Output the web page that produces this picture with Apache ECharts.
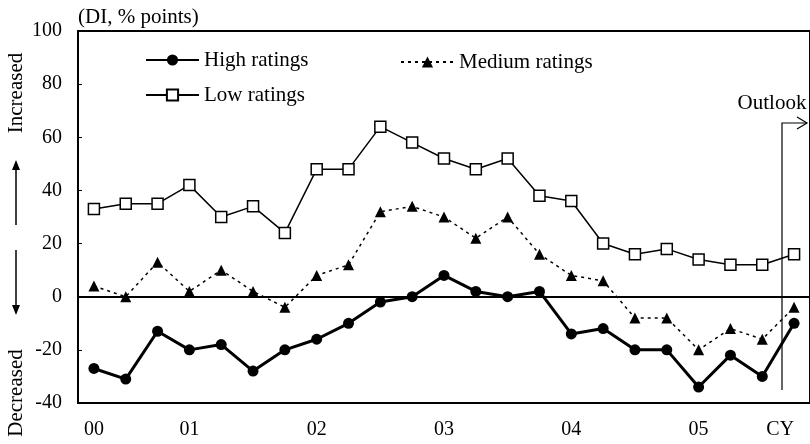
<!DOCTYPE html>
<html>
<head>
<meta charset="utf-8">
<script src="https://cdn.jsdelivr.net/npm/echarts@6/dist/echarts.min.js"></script>
<style>
  html, body { margin: 0; padding: 0; background: #fff; }
  #chart { width: 810px; height: 444px; }
</style>
</head>
<body>
<div id="chart"></div>
<script>
// x labels (quarters, label only at some of them)
const quarters = ['00', '', '', '01', '', '', '', '02', '', '', '', '03', '', '', '', '04', '', '', '', '05', '', '', 'CY'];

// DI values
const highRatings = [-27, -31, -13, -20, -18, -28, -20, -16, -10, -2, 0, 8, 2, 0, 2, -14, -12, -20, -20, -34, -22, -30, -10];
const mediumRatings = [4, 0, 13, 2, 10, 2, -4, 8, 12, 32, 34, 30, 22, 30, 16, 8, 6, -8, -8, -20, -12, -16, -4];
const lowRatings = [33, 35, 35, 42, 30, 34, 24, 48, 48, 64, 58, 52, 48, 52, 38, 36, 20, 16, 18, 14, 12, 12, 16];

const yTicks = { min: -40, max: 100, step: 20 };

const FONT = 'Liberation Serif';

const chart = echarts.init(document.getElementById('chart'));

const legendBase = {
  itemWidth: 53,
  itemHeight: 14,
  textStyle: { fontFamily: FONT, fontSize: 21, color: '#000', lineHeight: 22 },
  selectedMode: false
};

const option = {
  animation: false,
  backgroundColor: '#fff',
  grid: {
    left: 78, right: -8, top: 31, bottom: 41,
    show: true, borderColor: '#000', borderWidth: 2
  },
  legend: [
    Object.assign({ data: ['High ratings'], left: 140, top: 44 }, legendBase),
    Object.assign({ data: ['Low ratings'], left: 140, top: 79 }, legendBase),
    Object.assign({ data: ['Medium ratings'], left: 395, top: 46 }, legendBase)
  ],
  xAxis: {
    type: 'category',
    data: quarters,
    boundaryGap: true,
    axisLine: { show: true, lineStyle: { color: '#000', width: 2 } },
    axisTick: { show: false },
    axisLabel: {
      interval: 0, margin: 17, fontFamily: FONT, fontSize: 20, color: '#000',
      alignMaxLabel: 'right'
    }
  },
  yAxis: {
    type: 'value',
    min: yTicks.min, max: yTicks.max, interval: yTicks.step,
    axisLine: { show: true, lineStyle: { color: '#000', width: 2 } },
    axisTick: { show: true, inside: true, length: 4, lineStyle: { color: '#000' } },
    splitLine: { show: false },
    axisLabel: { margin: 16, fontFamily: FONT, fontSize: 20, color: '#000' }
  },
  series: [
    {
      name: 'Low ratings',
      type: 'line',
      data: lowRatings,
      symbol: 'rect',
      symbolSize: 11,
      lineStyle: { color: '#000', width: 1.5 },
      itemStyle: { color: '#fff', borderColor: '#000', borderWidth: 1.5 },
      z: 3
    },
    {
      name: 'Medium ratings',
      type: 'line',
      data: mediumRatings,
      symbol: 'triangle',
      symbolSize: 11,
      lineStyle: { color: '#000', width: 1.5, type: [3, 4] },
      itemStyle: { color: '#000' },
      z: 3,
      markLine: {
        silent: true,
        symbol: ['none', 'none'],
        label: { show: false },
        lineStyle: { color: '#000', width: 1, type: 'solid' },
        data: [{ yAxis: 0 }]
      }
    },
    {
      name: 'High ratings',
      type: 'line',
      data: highRatings,
      symbol: 'circle',
      symbolSize: 11,
      lineStyle: { color: '#000', width: 3 },
      itemStyle: { color: '#000' },
      z: 4
    }
  ],
  graphic: [
    { type: 'text', left: 78, top: 7, style: { text: '(DI, % points)', fontFamily: FONT, fontSize: 21, fill: '#000' } },
    { type: 'text', x: 16, y: 93, rotation: Math.PI / 2,
      style: { text: 'Increased', fontFamily: FONT, fontSize: 21, fill: '#000', align: 'center', verticalAlign: 'middle' } },
    { type: 'text', x: 16, y: 393, rotation: Math.PI / 2,
      style: { text: 'Decreased', fontFamily: FONT, fontSize: 21, fill: '#000', align: 'center', verticalAlign: 'middle' } },
    { type: 'line', shape: { x1: 16, y1: 225, x2: 16, y2: 166 }, style: { stroke: '#000', lineWidth: 1.5 } },
    { type: 'polygon', shape: { points: [[16, 160], [12, 170], [20, 170]] }, style: { fill: '#000' } },
    { type: 'line', shape: { x1: 16, y1: 250, x2: 16, y2: 309 }, style: { stroke: '#000', lineWidth: 1.5 } },
    { type: 'polygon', shape: { points: [[16, 315], [12, 305], [20, 305]] }, style: { fill: '#000' } },
    { type: 'polyline', shape: { points: [[782, 390], [782, 123], [807, 123]] }, style: { stroke: '#000', lineWidth: 1.2, fill: null } },
    { type: 'polyline', shape: { points: [[797, 117], [807, 123], [797, 129]] }, style: { stroke: '#000', lineWidth: 1.2, fill: null } },
    { type: 'text', x: 772, y: 103, style: { text: 'Outlook', fontFamily: FONT, fontSize: 21, fill: '#000', align: 'center', verticalAlign: 'middle' } }
  ]
};

chart.setOption(option);
</script>
</body>
</html>
